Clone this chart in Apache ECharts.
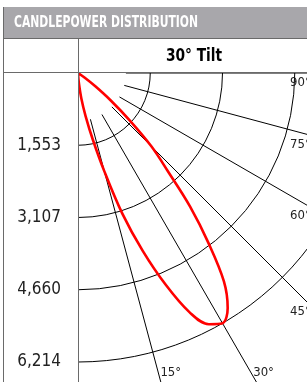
<!DOCTYPE html>
<html><head><meta charset="utf-8">
<script src="https://cdn.jsdelivr.net/npm/echarts@6/dist/echarts.min.js"></script>
<style>html,body{margin:0;padding:0;background:#fff}#c{width:307px;height:382px}</style>
</head><body><div id="c"></div>
<script>
const titleText = 'CANDLEPOWER DISTRIBUTION';
const subTitleText = '30° Tilt';
const radiusPeak = 6214;
const radiusStep = 1553.5;
const radiusTickLabels = ['', '1,553', '3,107', '4,660', '6,214', '', ''];
const gridAngles = [15, 30, 45, 60, 75, 90];
const gridAngleLabels = ['15°', '30°', '45°', '60°', '75°', '90°'];
const gridLineStart = 1030;
const gridLineEnd = 9000;
const curveAngles  = [0, 5, 7.5, 10, 12.5, 15, 17.5, 20, 22.5, 25, 27.5, 30, 32.5, 35, 37.5, 40, 42.5, 45, 47.5, 50, 52.5, 55, 57.5];
const curveCandela = [0, 210, 560, 940, 1460, 2190, 3170, 4070, 4930, 5680, 6090, 6214, 5990, 5470, 4610, 3750, 2850, 2230, 1500, 920, 470, 170, 0];

const FONT = "'Liberation Sans Narrow', 'DejaVu Sans Condensed', 'Arial Narrow', sans-serif";
const chart = echarts.init(document.getElementById('c'), null, {renderer: 'canvas'});

// axis extends 1.5x past the peak ring so the radial rules can run to the chart edge
const axisMax = radiusStep * 6;
const peakRadiusPx = 289;
const polarRadiusPx = peakRadiusPx * axisMax / radiusPeak;
const ringColors = radiusTickLabels.map((t, i) => i <= 4 ? '#000' : 'rgba(0,0,0,0)');

const series = [];
series.push({
  type: 'line', coordinateSystem: 'polar', smooth: 0.35, symbol: 'none', clip: false, silent: true, z: 5,
  lineStyle: {color: '#ff0000', width: 2.6},
  data: curveAngles.map((a, i) => [curveCandela[i], a])
});
gridAngles.forEach(a => {
  series.push({
    type: 'line', coordinateSystem: 'polar', symbol: 'none', clip: false, silent: true, z: 3,
    lineStyle: {color: '#000', width: 1},
    data: [[gridLineStart, a], [gridLineEnd, a]]
  });
});

const tableColor = '#6a6a6a';
chart.setOption({
  animation: false,
  backgroundColor: '#fff',
  polar: {center: [78, 73], radius: polarRadiusPx},
  angleAxis: {
    type: 'value', min: 0, max: 90, startAngle: 270, endAngle: 360, clockwise: false,
    axisLine: {show: false}, axisTick: {show: false}, axisLabel: {show: false}, splitLine: {show: false}
  },
  radiusAxis: {
    type: 'value', min: 0, max: axisMax, interval: radiusStep,
    axisLine: {show: false}, axisTick: {show: false},
    splitLine: {show: true, lineStyle: {color: ringColors, width: 1}},
    axisLabel: {
      show: true, margin: -17, align: 'right', verticalAlign: 'middle', color: '#222', fontSize: 17, fontFamily: FONT,
      formatter: (v, i) => radiusTickLabels[i] || ''
    }
  },
  series: series,
  graphic: [
    {id: 'hdr', type: 'rect', shape: {x: 3, y: 7, width: 304, height: 31}, style: {fill: '#a8a7ab'}, z: 100},
    {id: 'hdrT', type: 'text', x: 14, y: 23, scaleX: 0.8, style: {text: titleText, fill: '#fff', font: "bold 15px " + FONT, verticalAlign: 'middle'}, z: 101},
    {id: 'sub', type: 'text', x: 194, y: 56, scaleX: 0.85, style: {text: subTitleText, fill: '#000', font: "bold 18px " + FONT, align: 'center', verticalAlign: 'middle'}, z: 101},
    {id: 'l1', type: 'line', shape: {x1: 3, y1: 38.5, x2: 307, y2: 38.5}, style: {stroke: tableColor, lineWidth: 1}, z: 101},
    {id: 'l2', type: 'line', shape: {x1: 3, y1: 72.5, x2: 307, y2: 72.5}, style: {stroke: tableColor, lineWidth: 1}, z: 101},
    {id: 'l3', type: 'line', shape: {x1: 3.5, y1: 7, x2: 3.5, y2: 382}, style: {stroke: tableColor, lineWidth: 1}, z: 101},
    {id: 'l4', type: 'line', shape: {x1: 78.5, y1: 38, x2: 78.5, y2: 382}, style: {stroke: tableColor, lineWidth: 1}, z: 101}
  ]
});

// angle labels placed where each radial line meets the chart edge
const W = chart.getWidth(), H = chart.getHeight();
const c0 = chart.convertToPixel({seriesIndex: 0}, [0, 0]);
const labelGraphics = gridAngles.map((a, i) => {
  const p = chart.convertToPixel({seriesIndex: 0}, [radiusPeak, a]);
  const dx = p[0] - c0[0], dy = p[1] - c0[1];
  const tR = dx > 1e-6 ? (W - c0[0]) / dx : Infinity;
  const yEdge = c0[1] + tR * dy;
  let x, y;
  if (yEdge <= H - 20) { x = W - 17; y = yEdge + 10; }
  else { y = H - 9; x = c0[0] + (y - c0[1]) / dy * dx + 2; }
  return {id: 'al' + i, type: 'text', x: x, y: y, z: 102,
    style: {text: gridAngleLabels[i], fill: '#222', font: "13px " + FONT, verticalAlign: 'middle', align: 'left'}};
});
chart.setOption({graphic: labelGraphics});
</script></body></html>
